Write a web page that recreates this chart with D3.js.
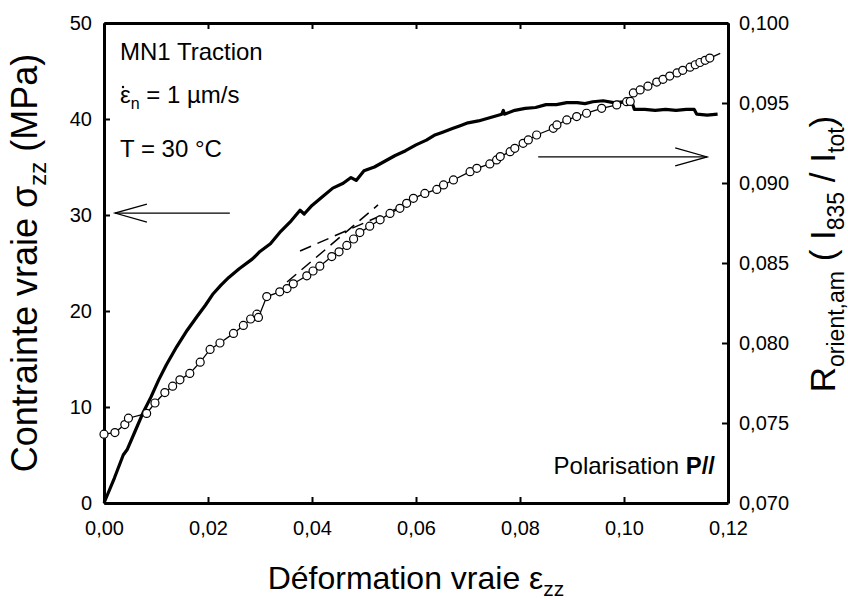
<!DOCTYPE html>
<html><head><meta charset="utf-8">
<script src="https://cdn.jsdelivr.net/npm/d3@7"></script>
<style>
body{margin:0;background:#fff;}
svg{display:block;font-family:"Liberation Sans",Arial,sans-serif;}
</style></head>
<body><svg id="chart" width="848" height="600"></svg>
<script>
// ---- data ----
const stressStrain = [0,0.002,0.0037,0.0045,0.006,0.0075,0.009,0.0105,0.012,0.014,0.016,0.018,0.0195,0.021,0.0225,0.024,0.026,0.0285,0.030,0.032,0.034,0.036,0.0377,0.0385,0.040,0.042,0.044,0.046,0.0475,0.0485,0.050,0.052,0.054,0.056,0.058,0.060,0.062,0.0635,0.065,0.067,0.0685,0.070,0.072,0.074,0.0765,0.0768,0.077,0.079,0.081,0.083,0.085,0.087,0.089,0.091,0.0925,0.094,0.096,0.098,0.100,0.1015,0.102,0.104,0.106,0.108,0.110,0.112,0.1135,0.114,0.116,0.118];
const stressMPa    = [0,2.6,5.0,5.6,7.5,9.4,11.0,12.8,14.4,16.3,18.0,19.5,20.6,21.8,22.7,23.5,24.4,25.4,26.2,27.0,28.3,29.4,30.5,30.1,31.0,31.9,32.8,33.3,33.9,33.6,34.6,35.0,35.6,36.2,36.7,37.3,37.8,38.3,38.6,39.0,39.3,39.6,39.8,40.1,40.5,40.9,40.5,40.9,41.1,41.2,41.5,41.5,41.7,41.7,41.6,41.8,41.9,41.7,41.8,41.8,41.0,41.0,40.9,41.0,40.9,41.0,41.0,40.5,40.4,40.5];

const ratioStrain = [0,0.0021,0.004,0.0047,0.0082,0.0098,0.0117,0.0132,0.0146,0.0165,0.0185,0.0204,0.0223,0.0249,0.0268,0.0282,0.0294,0.0297,0.0313,0.0338,0.0352,0.0364,0.039,0.0402,0.0415,0.0438,0.0452,0.0467,0.0480,0.0492,0.0511,0.0531,0.055,0.0569,0.0582,0.0595,0.0617,0.0640,0.0653,0.0672,0.0704,0.0717,0.0742,0.0755,0.0762,0.0781,0.0790,0.0806,0.0816,0.0832,0.0864,0.0871,0.0890,0.0909,0.0928,0.0957,0.0986,0.1005,0.1012,0.1018,0.1031,0.1046,0.1063,0.1075,0.1088,0.1102,0.1113,0.1127,0.1137,0.1146,0.1156,0.1165];
const ratioValue  = [0.0743,0.0744,0.0749,0.0753,0.0756,0.07625,0.0769,0.0773,0.0777,0.0781,0.0788,0.0796,0.0800,0.0806,0.0811,0.0815,0.0818,0.0816,0.0829,0.0832,0.0834,0.0837,0.0842,0.0845,0.0848,0.0854,0.0857,0.0861,0.0865,0.0869,0.0873,0.0877,0.0881,0.08842,0.08873,0.08904,0.08935,0.08960,0.08988,0.09019,0.09071,0.09092,0.09119,0.09144,0.09165,0.09196,0.09217,0.09248,0.09269,0.09300,0.09342,0.09363,0.09394,0.09415,0.09436,0.09467,0.09488,0.09508,0.0951,0.09563,0.09582,0.09605,0.09631,0.09648,0.09668,0.09688,0.09704,0.09724,0.09739,0.09753,0.09767,0.09781];

// tangent (dashed) lines, in (strain, ratio)
const tangent1 = [[0.0352,0.08381],[0.0527,0.08863]];
const tangent2 = [[0.0377,0.08575],[0.0588,0.08875]];

const xTicks = [0,0.02,0.04,0.06,0.08,0.10,0.12];
const yLeftTicks = [0,10,20,30,40,50];
const yRightTicks = [0.070,0.075,0.080,0.085,0.090,0.095,0.100];

// ---- layout ----
const L = 104, R = 728, T = 23, B = 503;
const svg = d3.select("#chart");

const x = d3.scaleLinear().domain([0,0.12]).range([L,R]);
const yL = d3.scaleLinear().domain([0,50]).range([B,T]);
const yR = d3.scaleLinear().domain([0.070,0.100]).range([B,T]);

const comma = f => v => d3.format(f)(v).replace(".", ",");

function styleAxis(g){
  g.select(".domain").attr("stroke","#000").attr("stroke-width",3);
  g.selectAll(".tick line").attr("stroke","#000").attr("stroke-width",2);
  g.selectAll(".tick text").attr("fill","#000").attr("font-size",20).attr("font-family","Liberation Sans, Arial, sans-serif");
}

svg.append("g").attr("transform",`translate(0,${B})`)
  .call(d3.axisBottom(x).tickValues(xTicks).tickFormat(comma(".2f")).tickSizeInner(-6).tickSizeOuter(0).tickPadding(18))
  .call(styleAxis);
svg.append("g").attr("transform",`translate(0,${T})`)
  .call(d3.axisTop(x).tickValues(xTicks).tickFormat("").tickSizeInner(-6).tickSizeOuter(0))
  .call(styleAxis);
svg.append("g").attr("transform",`translate(${L},0)`)
  .call(d3.axisLeft(yL).tickValues(yLeftTicks).tickFormat(d3.format("d")).tickSizeInner(-6).tickSizeOuter(0).tickPadding(12))
  .call(styleAxis);
svg.append("g").attr("transform",`translate(${R},0)`)
  .call(d3.axisRight(yR).tickValues(yRightTicks).tickFormat(comma(".3f")).tickSizeInner(-6).tickSizeOuter(0).tickPadding(11))
  .call(styleAxis);

// ---- stress curve ----
const stressData = stressStrain.map((e,i)=>[e,stressMPa[i]]);
svg.append("path").datum(stressData)
  .attr("fill","none").attr("stroke","#000").attr("stroke-width",3.2).attr("stroke-linejoin","round")
  .attr("d", d3.line().x(d=>x(d[0])).y(d=>yL(d[1])));

// ---- dashed tangents ----
[tangent1,tangent2].forEach(t=>{
  svg.append("path").datum(t)
    .attr("fill","none").attr("stroke","#000").attr("stroke-width",1.5).attr("stroke-dasharray","12,7")
    .attr("d", d3.line().x(d=>x(d[0])).y(d=>yR(d[1])));
});

// ---- ratio curve ----
const ratioData = ratioStrain.map((e,i)=>[e,ratioValue[i]]);
svg.append("path").datum(ratioData.concat([[0.1185,0.0981]]))
  .attr("fill","none").attr("stroke","#000").attr("stroke-width",1.3)
  .attr("d", d3.line().x(d=>x(d[0])).y(d=>yR(d[1])));
svg.append("g").selectAll("circle").data(ratioData).join("circle")
  .attr("cx",d=>x(d[0])).attr("cy",d=>yR(d[1])).attr("r",4)
  .attr("fill","#fff").attr("stroke","#000").attr("stroke-width",1.2);

// ---- arrows ----
function arrow(x1,y1,x2,y2){
  const g = svg.append("g").attr("stroke","#000").attr("stroke-width",1.2).attr("fill","none");
  g.append("line").attr("x1",x1).attr("y1",y1).attr("x2",x2).attr("y2",y2);
  const dir = Math.sign(x1-x2);
  g.append("polyline").attr("points",`${x2+dir*32},${y2-9} ${x2},${y2} ${x2+dir*32},${y2+9}`);
}
arrow(x(0.0242), yL(30.2), x(0.0021), yL(30.2));
arrow(x(0.0835), yR(0.09163), x(0.116), yR(0.09163));

// ---- annotations ----
const ann = svg.append("g").attr("font-size",24).attr("fill","#000");
ann.append("text").attr("x",120).attr("y",60).text("MN1 Traction");
const t2 = ann.append("text").attr("x",120).attr("y",103);
t2.append("tspan").text("ε");
t2.append("tspan").attr("dy",6).attr("font-size",16).text("n");
t2.append("tspan").attr("dy",-6).text(" = 1 µm/s");
svg.append("circle").attr("cx",123).attr("cy",87).attr("r",1.2).attr("fill","#000");
ann.append("text").attr("x",120).attr("y",157).text("T = 30 °C");
const t4 = ann.append("text").attr("x",715).attr("y",474).attr("text-anchor","end");
t4.append("tspan").text("Polarisation ");
t4.append("tspan").attr("font-weight","bold").text("P//");

// ---- axis titles ----
const xt = svg.append("text").attr("x",(L+R)/2).attr("y",589).attr("text-anchor","middle").attr("font-size",32);
xt.append("tspan").text("Déformation vraie ε");
xt.append("tspan").attr("dy",7).attr("font-size",21).text("zz");

const ylt = svg.append("text").attr("transform",`translate(37,${(T+B)/2}) rotate(-90)`).attr("text-anchor","middle").attr("font-size",36);
ylt.append("tspan").text("Contrainte vraie σ");
ylt.append("tspan").attr("dy",9).attr("font-size",24).text("zz");
ylt.append("tspan").attr("dy",-9).text(" (MPa)");

const yrt = svg.append("text").attr("transform",`translate(835,254) rotate(-90)`).attr("text-anchor","middle").attr("font-size",35);
yrt.append("tspan").text("R");
yrt.append("tspan").attr("dy",9).attr("font-size",23).text("orient,am");
yrt.append("tspan").attr("dy",-9).text("  ( I");
yrt.append("tspan").attr("dy",9).attr("font-size",23).text("835");
yrt.append("tspan").attr("dy",-9).text(" / I");
yrt.append("tspan").attr("dy",9).attr("font-size",23).text("tot");
yrt.append("tspan").attr("dy",-9).text(")");
</script></body></html>
